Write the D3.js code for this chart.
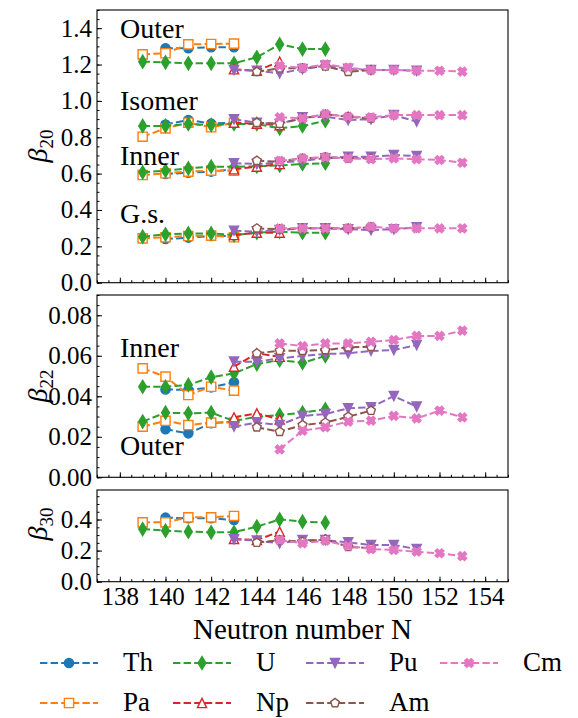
<!DOCTYPE html>
<html>
<head>
<meta charset="utf-8">
<script src="https://cdn.jsdelivr.net/npm/d3@7"></script>
<style>
  body { margin: 0; background: #fff; }
  svg { display: block; }
  text { font-family: "Liberation Serif", "DejaVu Serif", serif; fill: #000; }
</style>
</head>
<body>
<svg width="578" height="718"></svg>
<script>
// elements, in the order they were plotted (legend fills column-wise)
const elements = ["Th", "Pa", "U", "Np", "Pu", "Am", "Cm"];
const colors = ["#1f77b4", "#ff7f0e", "#2ca02c", "#d62728", "#9467bd", "#8c564b", "#e377c2"];
const markers = ["circle", "square", "thinDiamond", "triangleUp", "triangleDown", "pentagon", "xFilled"];
const hollow = [false, true, false, true, false, true, false];

// neutron numbers per element
const N_Th = [140, 141, 142, 143];
const N_Pa = [139, 140, 141, 142, 143];
const N_U  = [139, 140, 141, 142, 143, 144, 145, 146, 147];
const N_Np = [143, 144, 145];
const N_Pu = [143, 144, 145, 146, 147, 148, 149, 150, 151];
const N_Am = [144, 145, 146, 147, 148, 149];
const N_Cm = [145, 146, 147, 148, 149, 150, 151, 152, 153];

// beta20: ground state, inner barrier, isomer, outer barrier
const Th_b20_gs  = [0.240, 0.248, 0.257, 0.257];
const Th_b20_in  = [0.598, 0.605, 0.611, 0.624];
const Th_b20_iso = [0.870, 0.895, 0.875, 0.880];
const Th_b20_out = [1.290, 1.290, 1.295, 1.295];

const Pa_b20_gs  = [0.244, 0.250, 0.257, 0.259, 0.250];
const Pa_b20_in  = [0.592, 0.602, 0.611, 0.616, 0.616];
const Pa_b20_iso = [0.803, 0.849, 0.880, 0.855, 0.880];
const Pa_b20_out = [1.256, 1.262, 1.311, 1.313, 1.315];

const U_b20_gs  = [0.253, 0.266, 0.271, 0.271, 0.262, 0.275, 0.281, 0.275, 0.275];
const U_b20_in  = [0.607, 0.616, 0.629, 0.638, 0.638, 0.640, 0.645, 0.653, 0.657];
const U_b20_iso = [0.862, 0.862, 0.873, 0.867, 0.873, 0.873, 0.849, 0.862, 0.891];
const U_b20_out = [1.216, 1.212, 1.207, 1.207, 1.207, 1.240, 1.311, 1.285, 1.285];

const Np_b20_gs  = [0.262, 0.275, 0.275];
const Np_b20_in  = [0.624, 0.638, 0.653];
const Np_b20_iso = [0.880, 0.875, 0.867];
const Np_b20_out = [1.174, 1.166, 1.216];

const Pu_b20_gs  = [0.286, 0.281, 0.290, 0.299, 0.299, 0.294, 0.290, 0.294, 0.305];
const Pu_b20_in  = [0.657, 0.653, 0.660, 0.671, 0.684, 0.693, 0.693, 0.702, 0.697];
const Pu_b20_iso = [0.899, 0.880, 0.873, 0.910, 0.913, 0.895, 0.899, 0.922, 0.886];
const Pu_b20_out = [1.170, 1.166, 1.152, 1.175, 1.194, 1.177, 1.170, 1.170, 1.166];

const Am_b20_gs  = [0.299, 0.294, 0.299, 0.299, 0.299, 0.305];
const Am_b20_in  = [0.671, 0.666, 0.684, 0.690, 0.684, 0.684];
const Am_b20_iso = [0.880, 0.875, 0.904, 0.926, 0.913, 0.904];
const Am_b20_out = [1.160, 1.180, 1.180, 1.190, 1.160, 1.170];

const Cm_b20_gs  = [0.299, 0.299, 0.299, 0.299, 0.308, 0.299, 0.299, 0.299, 0.299];
const Cm_b20_in  = [0.671, 0.684, 0.690, 0.684, 0.679, 0.684, 0.679, 0.675, 0.660];
const Cm_b20_iso = [0.910, 0.904, 0.928, 0.913, 0.910, 0.922, 0.922, 0.922, 0.922];
const Cm_b20_out = [1.194, 1.181, 1.201, 1.183, 1.170, 1.170, 1.166, 1.166, 1.161];

// beta22: inner and outer barrier
const Th_b22_in  = [0.0434, 0.0431, 0.0444, 0.0469];
const Th_b22_out = [0.0237, 0.0217, 0.0267, 0.0275];
const Pa_b22_in  = [0.0538, 0.0497, 0.0406, 0.0447, 0.0428];
const Pa_b22_out = [0.0250, 0.0279, 0.0258, 0.0270, 0.0270];
const U_b22_in   = [0.0447, 0.0447, 0.0456, 0.0494, 0.0513, 0.0559, 0.0579, 0.0565, 0.0599];
const U_b22_out  = [0.0275, 0.0319, 0.0316, 0.0319, 0.0278, 0.0299, 0.0308, 0.0319, 0.0336];
const Np_b22_in  = [0.0546, 0.0612, 0.0595];
const Np_b22_out = [0.0296, 0.0316, 0.0286];
const Pu_b22_in  = [0.0571, 0.0571, 0.0587, 0.0599, 0.0609, 0.0612, 0.0624, 0.0628, 0.0653];
const Pu_b22_out = [0.0250, 0.0270, 0.0258, 0.0303, 0.0312, 0.0341, 0.0346, 0.0401, 0.0349];
const Am_b22_in  = [0.0612, 0.0625, 0.0625, 0.0628, 0.0642, 0.0645];
const Am_b22_out = [0.0247, 0.0225, 0.0258, 0.0270, 0.0299, 0.0329];
const Cm_b22_in  = [0.0661, 0.0648, 0.0661, 0.0661, 0.0669, 0.0678, 0.0698, 0.0698, 0.0724];
const Cm_b22_out = [0.0138, 0.0230, 0.0247, 0.0275, 0.0280, 0.0303, 0.0291, 0.0329, 0.0296];

// beta30 (outer barrier)
const Th_b30 = [0.412, 0.408, 0.408, 0.397];
const Pa_b30 = [0.382, 0.382, 0.414, 0.414, 0.423];
const U_b30  = [0.339, 0.328, 0.322, 0.318, 0.318, 0.354, 0.401, 0.386, 0.380];
const Np_b30 = [0.275, 0.268, 0.322];
const Pu_b30 = [0.273, 0.264, 0.247, 0.268, 0.268, 0.253, 0.236, 0.236, 0.210];
const Am_b30 = [0.251, 0.268, 0.257, 0.273, 0.225, 0.215];
const Cm_b30 = [0.268, 0.247, 0.264, 0.230, 0.210, 0.204, 0.193, 0.183, 0.165];

// x ticks
const xMajor = [138, 140, 142, 144, 146, 148, 150, 152, 154];

// lookup built from the arrays above
const N = { Th: N_Th, Pa: N_Pa, U: N_U, Np: N_Np, Pu: N_Pu, Am: N_Am, Cm: N_Cm };
const b20 = {
  Th: [Th_b20_gs, Th_b20_in, Th_b20_iso, Th_b20_out],
  Pa: [Pa_b20_gs, Pa_b20_in, Pa_b20_iso, Pa_b20_out],
  U:  [U_b20_gs, U_b20_in, U_b20_iso, U_b20_out],
  Np: [Np_b20_gs, Np_b20_in, Np_b20_iso, Np_b20_out],
  Pu: [Pu_b20_gs, Pu_b20_in, Pu_b20_iso, Pu_b20_out],
  Am: [Am_b20_gs, Am_b20_in, Am_b20_iso, Am_b20_out],
  Cm: [Cm_b20_gs, Cm_b20_in, Cm_b20_iso, Cm_b20_out]
};
const b22 = {
  Th: [Th_b22_in, Th_b22_out], Pa: [Pa_b22_in, Pa_b22_out], U: [U_b22_in, U_b22_out],
  Np: [Np_b22_in, Np_b22_out], Pu: [Pu_b22_in, Pu_b22_out], Am: [Am_b22_in, Am_b22_out],
  Cm: [Cm_b22_in, Cm_b22_out]
};
const b30 = { Th: [Th_b30], Pa: [Pa_b30], U: [U_b30], Np: [Np_b30], Pu: [Pu_b30], Am: [Am_b30], Cm: [Cm_b30] };

const svg = d3.select("svg");
const left = 97, right = 508;
const x = d3.scaleLinear().domain([137, 155]).range([left, right]);

const panels = [
  { top: 10,  bottom: 282.7, max: 1.5,  major: d3.range(0, 1.41, 0.2),   minor: d3.range(0, 1.501, 0.05),  fmt: ".1f", data: b20, sub: "20", labY: 146 },
  { top: 295, bottom: 477.3, max: 0.09, major: d3.range(0, 0.081, 0.02), minor: d3.range(0, 0.0901, 0.005), fmt: ".2f", data: b22, sub: "22", labY: 386 },
  { top: 490, bottom: 581.7, max: 0.59, major: [0, 0.2, 0.4],            minor: d3.range(0, 0.59, 0.05),   fmt: ".1f", data: b30, sub: "30", labY: 524 }
];

// marker path, size s in px, centred on 0,0
function markerPath(type, s) {
  const h = s / 2;
  if (type === "circle") return `M${h},0A${h},${h} 0 1,1 ${-h},0A${h},${h} 0 1,1 ${h},0Z`;
  if (type === "square") return `M${-h},${-h}H${h}V${h}H${-h}Z`;
  if (type === "triangleUp") return `M0,${-h}L${h},${h}L${-h},${h}Z`;
  if (type === "triangleDown") return `M0,${h}L${h},${-h}L${-h},${-h}Z`;
  if (type === "thinDiamond") {
    const dh = s * 0.707, dw = dh * 0.6;
    return `M0,${-dh}L${dw},0L0,${dh}L${-dw},0Z`;
  }
  if (type === "pentagon") {
    const pts = d3.range(5).map(k => {
      const a = -Math.PI / 2 + k * 2 * Math.PI / 5;
      return [h * Math.cos(a), h * Math.sin(a)];
    });
    return "M" + pts.map(p => p.join(",")).join("L") + "Z";
  }
  if (type === "xFilled") {
    const plus = [[-1,-3],[1,-3],[1,-1],[3,-1],[3,1],[1,1],[1,3],[-1,3],[-1,1],[-3,1],[-3,-1],[-1,-1]];
    const c = Math.SQRT1_2;
    const pts = plus.map(([a, b]) => [a / 6 * s, b / 6 * s]).map(([a, b]) => [a * c - b * c, a * c + b * c]);
    return "M" + pts.map(p => p.join(",")).join("L") + "Z";
  }
}

const ms = 9.2;

panels.forEach(p => {
  const y = d3.scaleLinear().domain([0, p.max]).range([p.bottom, p.top]);
  const g = svg.append("g");

  // series
  const line = d3.line().x(d => x(d[0])).y(d => y(d[1]));
  elements.forEach((el, i) => {
    p.data[el].forEach(vals => {
      const pts = N[el].map((n, j) => [n, vals[j]]);
      g.append("path")
        .attr("d", line(pts))
        .attr("fill", "none")
        .attr("stroke", colors[i])
        .attr("stroke-width", 2)
        .attr("stroke-dasharray", "7.4,3.2");
      g.selectAll(null)
        .data(pts)
        .enter().append("path")
        .attr("transform", d => `translate(${x(d[0])},${y(d[1])})`)
        .attr("d", markerPath(markers[i], ms))
        .attr("fill", hollow[i] ? "#fff" : colors[i])
        .attr("stroke", colors[i])
        .attr("stroke-width", 1.4);
    });
  });

  // axes, ticks pointing in
  g.append("g").attr("transform", `translate(${left},0)`)
    .call(d3.axisLeft(y).tickValues(p.minor).tickSize(-2.5).tickFormat(""))
    .call(a => a.select(".domain").remove());
  g.append("g").attr("transform", `translate(${left},0)`)
    .call(d3.axisLeft(y).tickValues(p.major).tickSize(-5).tickPadding(5).tickFormat(d3.format(p.fmt)))
    .call(a => a.select(".domain").remove())
    .call(a => a.selectAll("text").attr("font-size", 25).attr("font-family", null));
  g.append("g").attr("transform", `translate(0,${p.bottom})`)
    .call(d3.axisBottom(x).tickValues(d3.range(137, 155.01, 0.5)).tickSize(-2.5).tickFormat(""))
    .call(a => a.select(".domain").remove());
  g.append("g").attr("transform", `translate(0,${p.bottom})`)
    .call(d3.axisBottom(x).tickValues(xMajor).tickSize(-5).tickPadding(6).tickFormat(p.sub === "30" ? d3.format("d") : ""))
    .call(a => a.select(".domain").remove())
    .call(a => a.selectAll("text").attr("font-size", 25).attr("font-family", null));

  g.append("rect")
    .attr("x", left).attr("y", p.top)
    .attr("width", right - left).attr("height", p.bottom - p.top)
    .attr("fill", "none").attr("stroke", "#000").attr("stroke-width", 1.1);

  // y label beta_xx
  const lab = svg.append("text")
    .attr("transform", `translate(47,${p.labY}) rotate(-90)`)
    .attr("text-anchor", "middle")
    .attr("font-size", 28);
  lab.append("tspan").attr("font-style", "italic").text("β");
  lab.append("tspan").attr("font-size", 19).attr("dy", 6).text(p.sub);
});

// state labels
const notes = [
  ["Outer", 38], ["Isomer", 110], ["Inner", 165], ["G.s.", 223], ["Inner", 357], ["Outer", 455]
];
svg.selectAll(".note").data(notes).enter().append("text")
  .attr("class", "note")
  .attr("x", 120).attr("y", d => d[1])
  .attr("font-size", 28)
  .text(d => d[0]);

svg.append("text")
  .attr("x", (left + right) / 2).attr("y", 639)
  .attr("text-anchor", "middle").attr("font-size", 29)
  .text("Neutron number N");

// legend, 4 columns filled column-wise
const legX = [40, 173, 306, 440], legY = [663, 703];
elements.forEach((el, i) => {
  const col = Math.floor(i / 2), row = i % 2;
  const lg = svg.append("g").attr("transform", `translate(${legX[col]},${legY[row]})`);
  lg.append("line").attr("x1", 0).attr("x2", 58).attr("y1", 0).attr("y2", 0)
    .attr("stroke", colors[i]).attr("stroke-width", 2).attr("stroke-dasharray", "7.4,3.2");
  lg.append("path").attr("transform", "translate(29,0)")
    .attr("d", markerPath(markers[i], ms))
    .attr("fill", hollow[i] ? "#fff" : colors[i])
    .attr("stroke", colors[i]).attr("stroke-width", 1.4);
  lg.append("text").attr("x", 83).attr("y", 8).attr("font-size", 27).text(el);
});
</script>
</body>
</html>
